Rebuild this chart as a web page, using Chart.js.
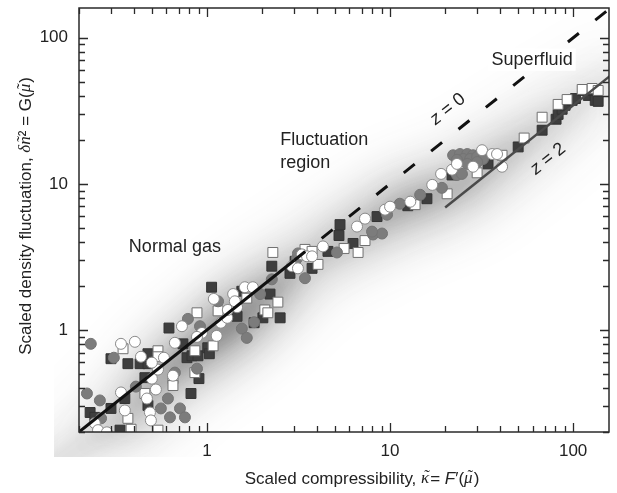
<!DOCTYPE html>
<html><head><meta charset="utf-8">
<script src="https://cdn.jsdelivr.net/npm/chart.js@4"></script>
<style>html,body{margin:0;padding:0;background:#fff}</style>
</head><body>
<canvas id="c" width="617" height="493"></canvas>
<script>
// ---- data ----
const darkSquares = [[0.299,0.635],[0.37,0.587],[0.431,0.587],[0.476,0.587],[0.476,0.687],[0.458,0.471],[0.356,0.339],[0.476,0.304],[0.23,0.272],[0.299,0.29],[0.244,0.252],[0.335,0.206],[0.818,0.367],[0.739,0.803],[0.62,1.03],[0.778,0.645],[0.828,0.665],[0.893,0.665],[1.01,0.755],[1.03,0.687],[0.904,0.464],[1.06,1.96],[1.55,1.84],[1.46,1.24],[1.81,1.12],[2.02,1.21],[2.21,1.76],[2.51,1.21],[2.26,2.73],[2.84,2.44],[3.75,2.64],[3.03,2.95],[5.33,5.26],[5.26,4.43],[6.28,3.91],[4.58,3.45],[8.49,5.97],[12.5,7.08],[15.9,7.91],[21.8,11.5],[34.3,13.7],[50.1,17.9],[67.7,23.3],[80.7,27.7],[82.8,29.9],[87.1,32.4],[90.4,34.5],[98.8,37.3],[103,38.4],[113,43.6],[121,40.3],[129,43.6],[135,40.9],[132,37.3],[137,36.7]];
const openSquares = [[0.348,0.743],[0.54,0.72],[0.54,0.655],[0.458,0.367],[0.37,0.248],[0.385,0.209],[0.54,0.206],[0.652,0.464],[0.652,0.416],[0.859,0.72],[0.859,0.51],[1.08,0.778],[0.882,1.31],[1.15,1.35],[1.65,1.65],[2.07,1.37],[2.15,1.31],[2.44,1.55],[2.29,3.39],[3.43,3.56],[3.75,3.45],[4.04,2.81],[5.61,3.61],[6.69,3.39],[7.3,4.09],[13.7,7.2],[20.5,8.55],[29.9,11.9],[40.9,15.7],[54,20.6],[67.7,28.6],[82.8,35],[92.7,37.8],[112,44.3],[127,45],[137,43.6]];
const grayCircles = [[0.232,0.803],[0.31,0.645],[0.409,0.409],[0.221,0.367],[0.26,0.329],[0.264,0.248],[0.56,0.29],[0.612,0.339],[0.628,0.252],[0.712,0.29],[0.758,0.252],[0.668,0.51],[0.882,0.543],[0.787,1.19],[0.916,1.06],[1.15,1.57],[1.55,1.02],[1.65,0.882],[1.81,1.13],[1.95,1.76],[2.26,2.22],[3.1,3.09],[3.14,3.34],[3.43,2.26],[5.13,3.39],[8.07,4.5],[9.04,4.57],[9.63,6.15],[7.97,4.71],[11.3,7.31],[14.6,8.42],[19.2,9.39],[23.2,11.5],[24.7,11.7],[22.1,15.7],[24.1,16],[26.4,16],[28.4,15.7],[31,16],[25.1,14.8],[27.4,14.8],[29.9,15.3],[32.2,14.8],[23.2,14.6],[26.4,13.7],[29.9,14.1]];
const openCircles = [[0.339,0.803],[0.404,0.829],[0.436,0.655],[0.582,0.645],[0.54,0.535],[0.5,0.597],[0.5,0.464],[0.652,0.486],[0.526,0.391],[0.339,0.373],[0.47,0.339],[0.356,0.281],[0.488,0.272],[0.494,0.24],[0.244,0.23],[0.254,0.206],[0.284,0.199],[0.668,0.816],[0.73,1.06],[0.939,0.954],[0.882,0.896],[1.13,0.91],[1.19,1.12],[1.29,1.21],[1.09,1.63],[1.3,1.37],[1.46,1.43],[1.39,1.76],[1.42,1.57],[1.61,1.96],[1.78,1.96],[3.3,3.29],[2.91,2.73],[3.14,2.64],[3.52,3.19],[3.75,3.19],[4.3,3.73],[6.6,5.1],[7.3,5.78],[9.39,6.66],[10,6.98],[12.9,7.55],[17,9.84],[19,11.7],[21.8,12.5],[23.2,13.7],[28.4,13.1],[31.8,17],[36.1,16],[40.9,13.1],[38.4,16]];
const normalGasLine = [[0.2,0.2],[3,3]];
const z0Line = [[3,3],[170,170]];
const z2Line = [[20,6.9],[170,58.6]];
const bandPath = [[0.15,0.12],[0.35,0.25],[0.63,0.53],[1.1,0.9],[1.95,1.6],[3.2,2.7],[5.3,4.0],[11.3,6.8],[26,10.3],[60,21.5],[130,44],[200,66]];
const xRange = [0.2, 157];
const yRange = [0.2, 160];
const majorTicks = [1, 10, 100];
const tickValues = [];
for (let e = -1; e <= 2; e++) for (let m = 1; m <= 9; m++) tickValues.push(+(m * Math.pow(10, e)).toPrecision(3));
const annotations = [
  {text:'Normal gas', x:0.668, y:3.67, align:'center'},
  {text:'Fluctuation', x:2.51, y:19.9, align:'left'},
  {text:'region', x:2.51, y:13.9, align:'left'},
  {text:'Superfluid', x:59.7, y:70.8, align:'center', knockout:true}
];
const zLabels = [{text:'z = 0', x:20.7, y:32.4},{text:'z = 2', x:73, y:14.8}];

const toXY = a => a.map(p => ({x:p[0], y:p[1]}));
const SANS = '"Liberation Sans", Arial, sans-serif';
const SERIF = '"Liberation Serif", "Times New Roman", serif';

const bandPlugin = {
  id:'band',
  beforeDatasetsDraw(chart){
    const {ctx, chartArea:a, scales:{x, y}} = chart;
    const pts = bandPath.map(p => [x.getPixelForValue(p[0]), y.getPixelForValue(p[1])]);
    ctx.save();
    ctx.beginPath(); ctx.rect(a.left-25, a.top, a.right-a.left+25, a.bottom-a.top+25); ctx.clip();
    const g = (al) => {
      const gr = ctx.createLinearGradient(a.left, a.bottom, a.right, a.top);
      gr.addColorStop(0, `rgba(40,40,40,${0.2*al})`);
      gr.addColorStop(0.15, `rgba(40,40,40,${0.6*al})`);
      gr.addColorStop(0.28, `rgba(40,40,40,${0.9*al})`);
      gr.addColorStop(0.42, `rgba(40,40,40,${0.35*al})`);
      gr.addColorStop(0.6, `rgba(40,40,40,${0.6*al})`);
      gr.addColorStop(0.8, `rgba(40,40,40,${0.3*al})`);
      gr.addColorStop(1, `rgba(40,40,40,${0.06*al})`);
      return gr;
    };
    const layers = [[90, 0.22, 22],[50, 0.3, 14],[22, 0.28, 8]];
    for (const [w, al, bl] of layers) {
      ctx.filter = `blur(${bl}px)`;
      ctx.strokeStyle = g(al);
      ctx.lineWidth = w; ctx.lineCap = 'round'; ctx.lineJoin = 'round';
      ctx.beginPath();
      pts.forEach((p,i) => i ? ctx.lineTo(p[0],p[1]) : ctx.moveTo(p[0],p[1]));
      ctx.stroke();
    }
    ctx.restore();
  }
};

function segFont(s, size) { return (s.i ? 'italic ' : '') + size + 'px ' + (s.serif ? SERIF : SANS); }
function drawRich(ctx, segs, x, y, size) {
  let total = 0;
  for (const s of segs) { ctx.font = segFont(s, size); s.w = ctx.measureText(s.t).width + (s.pad || 0); total += s.w; }
  let cx = x - total/2;
  ctx.textAlign = 'left'; ctx.textBaseline = 'middle';
  for (const s of segs) {
    ctx.font = segFont(s, size);
    ctx.fillText(s.t, cx, y);
    if (s.tilde) {
      ctx.textAlign = 'center';
      ctx.font = segFont({serif:true}, size);
      ctx.fillText('\u02DC', cx + s.w/2 + (s.i ? 1.5 : 0), y - size*0.12);
      ctx.textAlign = 'left';
    }
    cx += s.w;
  }
}

const framePlugin = {
  id:'frame',
  afterDatasetsDraw(chart){
    const {ctx, chartArea:a, scales:{x, y}} = chart;
    ctx.save();
    ctx.strokeStyle = '#2a2a2a'; ctx.lineWidth = 1.5;
    ctx.strokeRect(a.left, a.top, a.right-a.left, a.bottom-a.top);
    ctx.lineWidth = 1.3;
    ctx.beginPath();
    for (const v of tickValues) {
      const L = majorTicks.includes(v) ? 9 : 6;
      if (v >= xRange[0] && v <= xRange[1]) {
        const px = Math.round(x.getPixelForValue(v)) + 0.5;
        ctx.moveTo(px, a.bottom); ctx.lineTo(px, a.bottom - L);
        ctx.moveTo(px, a.top); ctx.lineTo(px, a.top + L);
      }
      if (v >= yRange[0] && v <= yRange[1]) {
        const py = Math.round(y.getPixelForValue(v)) + 0.5;
        ctx.moveTo(a.left, py); ctx.lineTo(a.left + L, py);
        ctx.moveTo(a.right, py); ctx.lineTo(a.right - L, py);
      }
    }
    ctx.stroke();
    ctx.font = '18px ' + SANS; ctx.textBaseline = 'middle';
    for (const t of annotations) {
      ctx.textAlign = t.align;
      const px = x.getPixelForValue(t.x), py = y.getPixelForValue(t.y);
      if (t.knockout) {
        const w = ctx.measureText(t.text).width;
        const l = t.align === 'center' ? px - w/2 : px;
        ctx.fillStyle = '#fff';
        ctx.fillRect(l - 3, py - 11, w + 6, 22);
      }
      ctx.fillStyle = '#222';
      ctx.fillText(t.text, px, py);
    }
    const ang = Math.atan2(y.getPixelForValue(1) - y.getPixelForValue(10), x.getPixelForValue(10) - x.getPixelForValue(1));
    for (const t of zLabels) {
      ctx.save();
      ctx.translate(x.getPixelForValue(t.x), y.getPixelForValue(t.y));
      ctx.rotate(-ang);
      const parts = t.text.split(' ');
      drawRich(ctx, [{t:parts[0], i:true},{t:' ' + parts[1] + ' '},{t:parts[2]}], 0, 0, 18);
      ctx.restore();
    }
    ctx.restore();
  },
  afterDraw(chart){
    const {ctx} = chart;
    ctx.save();
    ctx.fillStyle = '#222';
    drawRich(ctx, [{t:'Scaled compressibility, '},{t:'κ', i:true, serif:true, tilde:true, pad:1},{t:'= '},{t:'F', i:true},{t:'\u2032('},{t:'μ', i:true, serif:true, tilde:true, pad:1},{t:')'}], 362, 479, 17);
    ctx.translate(26, 216);
    ctx.rotate(-Math.PI/2);
    drawRich(ctx, [{t:'Scaled density fluctuation, '},{t:'δ', i:true, serif:true},{t:'n', i:true, serif:true, tilde:true},{t:'²'},{t:' = G('},{t:'μ', i:true, serif:true, tilde:true, pad:1},{t:')'}], 0, 0, 17);
    ctx.restore();
  }
};

const tickFont = {family:SANS, size:17};
const labelCb = v => majorTicks.includes(Math.round(v*1000)/1000) ? String(Math.round(v)) : '';
const setTicks = (range) => (s) => { s.ticks = tickValues.filter(v => v >= range[0] && v <= range[1]).map(v => ({value:v})); };
const noPad = s => { s.paddingTop = 0; s.paddingBottom = 0; s.paddingLeft = 0; s.paddingRight = 0; };

new Chart(document.getElementById('c'), {
  type:'scatter',
  data:{datasets:[
    {label:'Normal gas', data:toXY(normalGasLine), showLine:true, borderColor:'#111', borderWidth:3, pointRadius:0},
    {label:'z = 0', data:toXY(z0Line), showLine:true, borderColor:'#111', borderWidth:3, borderDash:[14,21], pointRadius:0},
    {label:'z = 2', data:toXY(z2Line), showLine:true, borderColor:'#4a4a4a', borderWidth:2.5, pointRadius:0},
    {label:'open circles', data:toXY(openCircles), pointStyle:'circle', pointRadius:5.5, backgroundColor:'#fff', borderColor:'#8a8a8a', borderWidth:1},
    {label:'gray circles', data:toXY(grayCircles), pointStyle:'circle', pointRadius:5.5, backgroundColor:'#7c7c7c', borderColor:'#747474', borderWidth:1},
    {label:'open squares', data:toXY(openSquares), pointStyle:'rect', pointRadius:7, backgroundColor:'#fff', borderColor:'#707070', borderWidth:1},
    {label:'dark squares', data:toXY(darkSquares), pointStyle:'rect', pointRadius:7, backgroundColor:'#3e3e3e', borderColor:'#333', borderWidth:1}
  ]},
  options:{
    responsive:false, animation:false, devicePixelRatio:1,
    layout:{padding:{top:5, right:8, left:0, bottom:0}},
    plugins:{legend:{display:false}, tooltip:{enabled:false}},
    elements:{point:{hoverRadius:0}},
    scales:{
      x:{type:'logarithmic', min:xRange[0], max:xRange[1], afterBuildTicks:setTicks(xRange), afterFit:s => {s.height = 61; noPad(s);},
         grid:{display:false, drawTicks:false}, border:{display:false},
         ticks:{autoSkip:false, maxRotation:0, padding:9, font:tickFont, color:'#222', callback:labelCb}},
      y:{type:'logarithmic', min:yRange[0], max:yRange[1], afterBuildTicks:setTicks(yRange), afterFit:s => {s.width = 79; noPad(s);},
         grid:{display:false, drawTicks:false}, border:{display:false},
         ticks:{autoSkip:false, padding:11, font:tickFont, color:'#222', callback:labelCb}}
    }
  },
  plugins:[bandPlugin, framePlugin]
});
</script>
</body></html>
